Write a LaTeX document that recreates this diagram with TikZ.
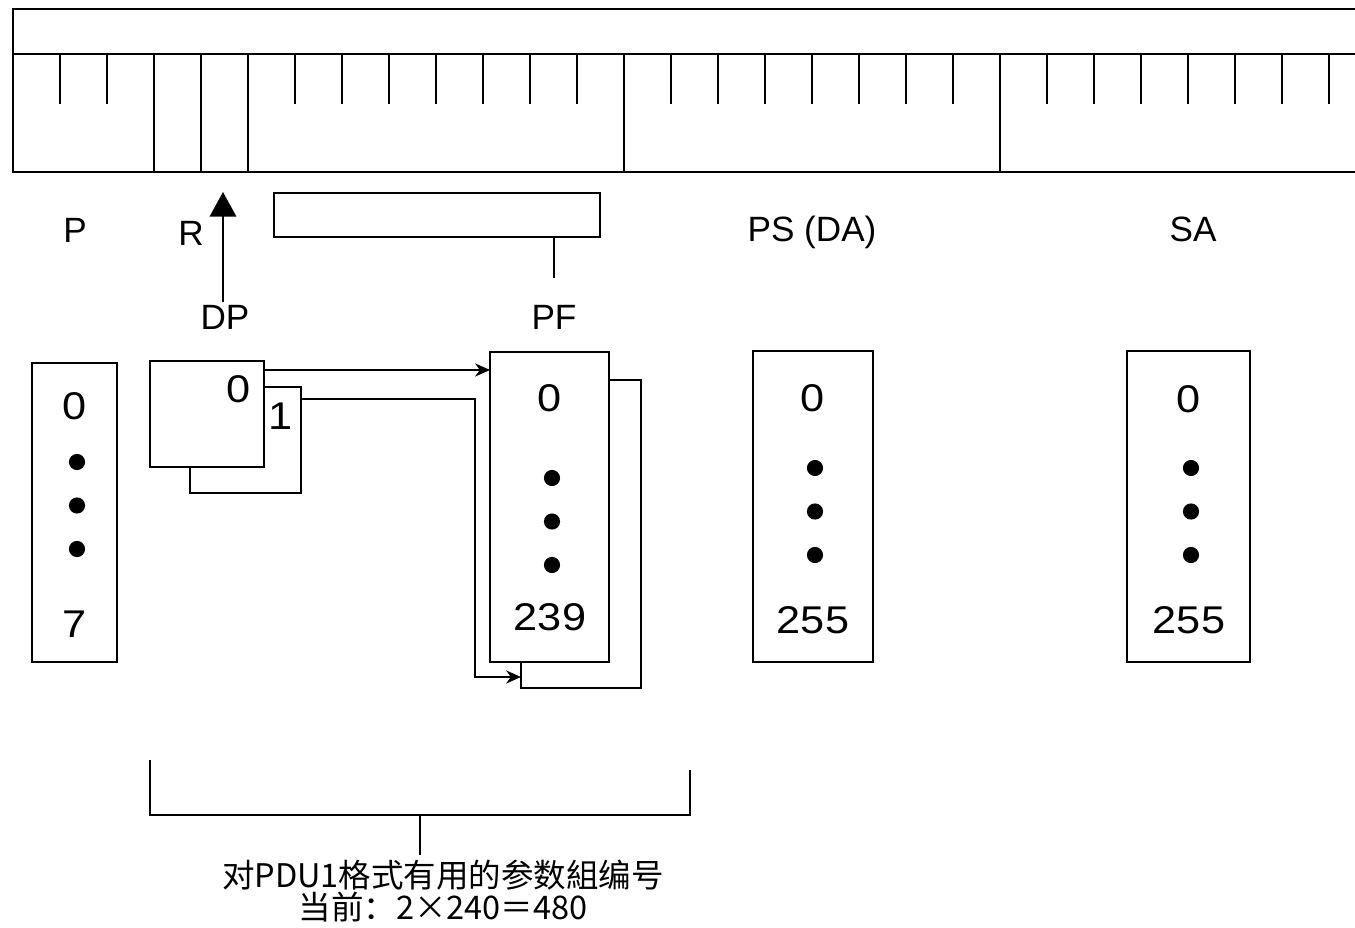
\documentclass[tikz,border=0pt]{standalone}
\usepackage{fontspec}
\setmainfont{Liberation Sans}
\newfontfamily\cjk{Noto Sans CJK SC}
\newfontfamily\wide[FakeStretch=1.12]{Liberation Sans}
\usetikzlibrary{arrows.meta, calc, fit}
\tikzset{
	frame/.style={line width=1.5pt},
	tick/.style={line width=1.1pt},
	box/.style={draw, line width=1.3pt, fill=white, inner sep=0pt, outer sep=0pt},
	lab/.style={font=\fontsize{20}{24}\selectfont, inner sep=2pt, anchor=base},
	num/.style={font=\wide\fontsize{22}{26}\selectfont, inner sep=0pt, anchor=base},
	link/.style={line width=1.1pt, -{Stealth[length=8.5pt,width=7.5pt]}},
	bigarrow/.style={line width=1.3pt, -{Triangle[length=14pt,width=15pt]}}
}
\newcommand{\colnums}[6]{
	\node[num] (#1first) at (#2,#3) {0};
	\foreach \k in {0,1,2} \fill (#2+2,#4+43.5*\k) circle[radius=4.6pt];
	\node[num] (#1last) at (#2,#5) {#6};
}

\begin{document}
\begin{tikzpicture}[x=0.02cm, y=-0.02cm]
		\useasboundingbox (0,0) rectangle (1355,928);
		% register
		\draw[frame] (1355,9) -| (13,172) -- (1355,172);
		\draw[frame] (13,54) -- (1355,54);
		\foreach \i in {1,...,28} \draw[tick] (13+47*\i,54) -- ++(0,50);
		\foreach \i in {3,4,5,13,21} \draw[frame] (13+47*\i,54) -- ++(0,118);
		% field names
		\node[lab] (plab) at (75,243) {P};
		\node[lab] (rlab) at (191,246) {R};
		\node[lab] (dplab) at (225,330) {DP};
		\node[lab] (pflab) at (554,330) {PF};
		\node[lab] (pslab) at (812,242) {PS (DA)};
		\node[lab] (salab) at (1193,242) {SA};
		\coordinate (dptip) at (223,192);
		\draw[bigarrow] (dplab.north -| dptip) -- (dptip);
		\node[box, fit={(274,193) (600,237)}] (pfbar) {};
		\draw[frame] (pfbar.south -| pflab) -- ++(0,41);
		% pages and tables
		\node[box, fit={(32,363) (117,662)}] (pbox) {};
		\node[box, fit={(190,387) (301,493)}] (dpback) {};
		\node[box, fit={(150,361) (264,467)}] (dpbox) {};
		\node[box, fit={(521,380) (641,688)}] (pfback) {};
		\node[box, fit={(490,352) (609,662)}] (pfbox) {};
		\node[box, fit={(753,351) (873,662)}] (psbox) {};
		\node[box, fit={(1127,351) (1250,662)}] (sabox) {};
		\node[num] (dpzero) at (239,403) {0};
		\node[num] (dpone) at (281,430) {1};
		\colnums{p}{75}{420}{462}{637}{7}
		\colnums{pf}{550}{412}{478}{630}{239}
		\colnums{ps}{813}{412}{468}{633}{255}
		\colnums{sa}{1189}{413}{468}{633}{255}
		\draw[link] ($(dpbox.north east)+(0,9)$) -- ($(pfbox.north west)+(0,18)$);
		\draw[link] ($(dpback.north east)+(0,12)$) -| ($(pfback.south west)+(-46,-11)$) -- ($(pfback.south west)+(0,-11)$);
		% count
		\coordinate (bmid) at (420,815);
		\draw[frame] (150,760) |- (690,815) -- (690,770);
		\node[font=\cjk\fontsize{18.5}{18}\selectfont, align=center, inner sep=3pt] (note) at (443,891) {对PDU1格式有用的参数組编号\\当前：2×240＝480};
		\draw[frame] (bmid) -- (bmid |- note.north);
	\end{tikzpicture}
\end{document}
